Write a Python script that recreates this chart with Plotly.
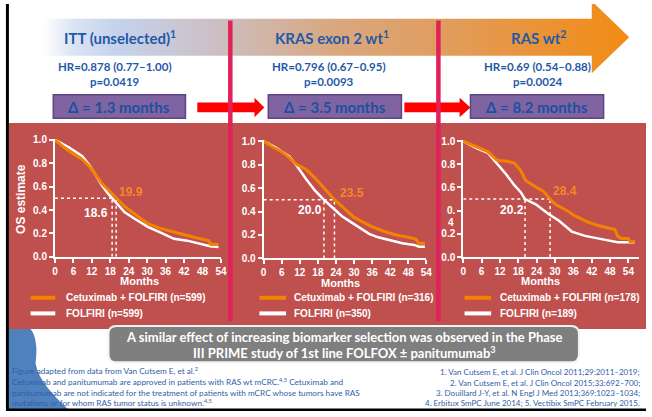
import plotly.graph_objects as go

W, H = 652, 417

# ---- Kaplan-Meier overall survival (months, OS estimate) ----
itt_cet_t = [0, 2, 4.5, 8.8, 10.9, 13.0, 15.2, 17.3, 19.9, 22.7, 25.9, 30.2, 34.4, 38.7, 43.0, 47.3, 50.0, 50.7, 53.2]
itt_cet_s = [1.0, 0.96, 0.904, 0.835, 0.78, 0.71, 0.628, 0.573, 0.50, 0.43, 0.366, 0.284, 0.242, 0.215, 0.182, 0.154, 0.138, 0.105, 0.105]
itt_fol_t = [0, 2, 4.5, 8.8, 10.9, 13.0, 15.2, 17.3, 18.6, 22.7, 25.9, 30.2, 34.4, 38.7, 43.0, 47.3, 50.5, 53.2]
itt_fol_s = [1.0, 0.975, 0.937, 0.862, 0.793, 0.71, 0.614, 0.54, 0.50, 0.38, 0.325, 0.256, 0.207, 0.154, 0.138, 0.11, 0.09, 0.083]

kras_cet_t = [0, 3, 6, 8.5, 11, 14, 16.5, 19, 21.5, 23.5, 27, 30, 33, 36, 40, 44, 48, 50.5, 51.5, 53.5]
kras_cet_s = [1.0, 0.95, 0.91, 0.86, 0.80, 0.76, 0.70, 0.63, 0.56, 0.50, 0.42, 0.35, 0.31, 0.27, 0.23, 0.20, 0.18, 0.165, 0.13, 0.13]
kras_fol_t = [0, 4, 8.5, 11, 14, 17, 20, 23.5, 26, 29, 32, 35, 38, 42, 46, 50, 51.5, 53.5]
kras_fol_s = [1.0, 0.945, 0.87, 0.79, 0.68, 0.58, 0.50, 0.42, 0.36, 0.31, 0.26, 0.21, 0.18, 0.155, 0.13, 0.115, 0.10, 0.10]

ras_cet_t = [0, 4.3, 8, 10.8, 12, 14, 16.7, 18.8, 20.4, 23.7, 26.3, 28.4, 30.1, 33.3, 36.6, 40.9, 44.1, 48.4, 49.5, 50.5, 51.6, 54, 54.5, 56]
ras_cet_s = [1.0, 0.95, 0.91, 0.84, 0.83, 0.828, 0.81, 0.745, 0.66, 0.605, 0.565, 0.50, 0.455, 0.41, 0.355, 0.30, 0.272, 0.245, 0.24, 0.18, 0.16, 0.16, 0.135, 0.135]
ras_fol_t = [0, 4.3, 8, 10.8, 14, 16.7, 18.8, 20.2, 23.7, 28, 31.2, 35.5, 39.8, 45.2, 50.5, 56]
ras_fol_s = [1.0, 0.94, 0.90, 0.815, 0.715, 0.62, 0.56, 0.50, 0.455, 0.37, 0.315, 0.22, 0.183, 0.155, 0.128, 0.128]

# median OS (months): cetuximab + FOLFIRI, FOLFIRI
medians_cet = [19.9, 23.5, 28.4]
medians_fol = [18.6, 20.0, 20.2]

panel_titles = ["ITT (unselected)<sup>1</sup>", "KRAS exon 2 wt<sup>1</sup>", "RAS wt<sup>2</sup>"]
hr_texts = ["HR=0.878 (0.77–1.00)", "HR=0.796 (0.67–0.95)", "HR=0.69 (0.54–0.88)"]
p_texts = ["p=0.0419", "p=0.0093", "p=0.0024"]
delta_months = [1.3, 3.5, 8.2]
n_cet = [599, 316, 178]
n_fol = [599, 350, 189]

month_ticks = [0, 6, 12, 18, 24, 30, 36, 42, 48, 54]
os_ticks = [0.0, 0.2, 0.4, 0.6, 0.8, 1.0]
os_ticktext = ["0.0", "0.2", "0.4", "0.6", "0.8", "1.0"]

footnote_left = [
    "Figure adapted from data from Van Cutsem E, et al.<sup>2</sup>",
    "Cetuximab and panitumumab are approved in patients with RAS wt mCRC.<sup>4,5</sup> Cetuximab and",
    "panitumumab are not indicated for the treatment of patients with mCRC whose tumors have RAS",
    "mutations or for whom RAS tumor status is unknown.<sup>4,5</sup>",
]
footnote_right = [
    "1. Van Cutsem E, et al. J Clin Oncol 2011;29:2011–2019;",
    "2. Van Cutsem E, et al. J Clin Oncol 2015;33:692–700;",
    "3. Douillard J-Y, et al. N Engl J Med 2013;369:1023–1034;",
    "4. Erbitux SmPC June 2014; 5. Vectibix SmPC February 2015.",
]
summary_lines = ["A similar effect of increasing biomarker selection was observed in the Phase",
                 "III PRIME study of 1st line FOLFOX ± panitumumab<sup>3</sup>"]

ORANGE = "#f28200"
WHITE = "#ffffff"
PANEL_RED = "#c0504d"
BLUE_TXT = "#1f5aa8"
FOOT_BLUE = "#2f5ea9"
PURPLE = "#8064a2"
PINK = "#e0215a"
CHART_FONT = "Liberation Sans"
SLIDE_FONT = "Lato"

def fx(x):
    return x / W

def fy(y):
    return 1 - y / H

# panel geometry (pixels): x at 0 months, x at xmax, y at OS 0, y at OS 1, xmax
panels = [
    dict(x0=52.7, x1=221.0, y0=259.0, y1=138.0, xmax=54.0),
    dict(x0=264.3, x1=429.3, y0=260.7, y1=139.3, xmax=54.0),
    dict(x0=466.7, x1=645.0, y0=259.3, y1=139.3, xmax=57.5),
]
curves = [
    (itt_cet_t, itt_cet_s, itt_fol_t, itt_fol_s),
    (kras_cet_t, kras_cet_s, kras_fol_t, kras_fol_s),
    (ras_cet_t, ras_cet_s, ras_fol_t, ras_fol_s),
]

fig = go.Figure()

# background canvas (pixel coordinates) on the first axis pair
layout = dict(
    width=W, height=H,
    margin=dict(l=0, r=0, t=0, b=0),
    paper_bgcolor="white",
    plot_bgcolor="rgba(0,0,0,0)",
    showlegend=False,
    xaxis=dict(domain=[0, 1], range=[0, W], visible=False, fixedrange=True),
    yaxis=dict(domain=[0, 1], range=[H, 0], visible=False, fixedrange=True),
)

# gradient header arrow
arrow_x = [40, 597, 597, 635, 597, 597, 40, 40]
arrow_y = [15, 15, -3, 34, 71, 53, 53, 15]
fig.add_trace(go.Scatter(
    x=arrow_x, y=arrow_y, xaxis="x", yaxis="y", mode="none", fill="toself",
    fillgradient=dict(
        type="horizontal", start=40, stop=635,
        colorscale=[[0.0, "#ffffff"], [0.05, "#dbe4f3"], [0.12, "#c5d3ec"],
                    [0.27, "#cbc2ca"], [0.49, "#d9a77f"], [0.69, "#e29c5a"],
                    [0.87, "#ec912e"], [1.0, "#f38a10"]]),
    hoverinfo="skip",
))

tick_font = dict(family=CHART_FONT, size=10, color=WHITE, weight="bold")

for i, (p, (ct, cs, ft, fs)) in enumerate(zip(panels, curves)):
    n = i + 2
    xa, ya = f"x{n}", f"y{n}"
    ytext = list(os_ticktext)
    if i == 2:
        ytext[2] = "0."
    layout[f"xaxis{n}"] = dict(
        domain=[fx(p["x0"]), fx(p["x1"])], range=[0, p["xmax"]], anchor=ya,
        tickvals=month_ticks, showline=True, linecolor=WHITE, linewidth=2,
        ticks="outside", ticklen=4, tickwidth=1.5, tickcolor=WHITE,
        tickfont=tick_font, showgrid=False, zeroline=False, fixedrange=True)
    layout[f"yaxis{n}"] = dict(
        domain=[fy(p["y0"]), fy(p["y1"])], range=[0, 1.01], anchor=xa,
        tickvals=os_ticks, ticktext=ytext, showline=True, linecolor=WHITE,
        linewidth=2, ticks="outside", ticklen=4, tickwidth=1.5, tickcolor=WHITE,
        tickfont=tick_font, showgrid=False, zeroline=False, fixedrange=True)

    mc, mf = medians_cet[i], medians_fol[i]
    dot = dict(color=WHITE, width=1.5, dash="dot")
    fig.add_trace(go.Scatter(x=[0, max(mc, mf)], y=[0.5, 0.5], mode="lines",
                             line=dot, xaxis=xa, yaxis=ya, hoverinfo="skip"))
    for m in (mf, mc):
        fig.add_trace(go.Scatter(x=[m, m], y=[0, 0.5], mode="lines",
                                 line=dot, xaxis=xa, yaxis=ya, hoverinfo="skip"))
    fig.add_trace(go.Scatter(x=ft, y=fs, mode="lines", line=dict(color=WHITE, width=2.5),
                             xaxis=xa, yaxis=ya, name=f"FOLFIRI (n={n_fol[i]})"))
    fig.add_trace(go.Scatter(x=ct, y=cs, mode="lines", line=dict(color=ORANGE, width=3),
                             xaxis=xa, yaxis=ya, name=f"Cetuximab + FOLFIRI (n={n_cet[i]})"))

fig.update_layout(**layout)

shapes = []
annotations = []

def canvas_text(x, y, text, size, color, family=SLIDE_FONT, bold=True, xanchor="center", **kw):
    annotations.append(dict(
        x=x, y=y, xref="x", yref="y", text=text, showarrow=False,
        xanchor=xanchor, yanchor="middle",
        font=dict(family=family, size=size, color=color, weight="bold" if bold else "normal"),
        **kw))

# red chart band and blue corner blob (under the plots)
shapes.append(dict(type="rect", xref="x", yref="y", x0=6, x1=W, y0=122, y1=333,
                   fillcolor=PANEL_RED, line=dict(width=0), layer="below"))
shapes.append(dict(type="path", xref="x", yref="y", layer="below",
                   path="M 6,333 L 28,333 C 34,340 35,355 33,368 C 36,385 50,400 68,417 L 6,417 Z",
                   fillcolor="#4f81bd", line=dict(width=0)))

# red arrows between the delta boxes
for (a, b, tip) in [(197, 255, 265), (407, 463, 474)]:
    shapes.append(dict(type="path", xref="x", yref="y", layer="above",
                       path=f"M {a},101 L {b},101 L {b},96 L {tip},106 L {b},116 L {b},111 L {a},111 Z",
                       fillcolor="#ff0000", line=dict(width=0)))

# pink separators
for xs in (230.5, 441.5):
    shapes.append(dict(type="line", xref="x", yref="y", x0=xs, x1=xs, y0=17, y1=325,
                       line=dict(color=PINK, width=4.5), layer="above"))

# panel headers, HR, p-values and delta boxes
title_x = [119, 334, 543]
hr_x = [114, 331, 542]
box_x = [(51, 185), (269, 404), (474, 609)]
for i in range(3):
    canvas_text(title_x[i], 34, panel_titles[i], 15, BLUE_TXT)
    canvas_text(hr_x[i], 64, hr_texts[i], 11.5, BLUE_TXT)
    canvas_text(hr_x[i], 79, p_texts[i], 11.5, BLUE_TXT)
    bx0, bx1 = box_x[i]
    shapes.append(dict(type="rect", xref="x", yref="y", x0=bx0, x1=bx1, y0=93, y1=117,
                       fillcolor=PURPLE, line=dict(color="#5c4580", width=1.5), layer="above"))
    canvas_text((bx0 + bx1) / 2, 105.5, f"Δ = {delta_months[i]} months", 15, "#1d4f9f")

# chart labels
ylab = [(138, 284), (342, 286), (545, 284)]
leg = [(28, 53, 62), (260, 287, 293), (468, 495, 502)]
med_lab = [((130, 193), (94, 214)), ((354, 194), (311, 211)), ((570, 192), (516, 211))]
for i in range(3):
    canvas_text(ylab[i][0], ylab[i][1], "Months", 11, WHITE, family=CHART_FONT)
    l0, l1, tx = leg[i]
    shapes.append(dict(type="line", xref="x", yref="y", x0=l0, x1=l1, y0=301, y1=301,
                       line=dict(color=ORANGE, width=4), layer="above"))
    shapes.append(dict(type="line", xref="x", yref="y", x0=l0, x1=l1, y0=317, y1=317,
                       line=dict(color=WHITE, width=4), layer="above"))
    canvas_text(tx, 301, f"Cetuximab + FOLFIRI (n={n_cet[i]})", 10, WHITE,
                family=CHART_FONT, xanchor="left")
    canvas_text(tx, 317, f"FOLFIRI (n={n_fol[i]})", 10, WHITE,
                family=CHART_FONT, xanchor="left")
    (ox, oy), (wx, wy) = med_lab[i]
    canvas_text(ox, oy, f"{medians_cet[i]}", 12, "#f5862a", family=CHART_FONT)
    canvas_text(wx, wy, f"{medians_fol[i]:.1f}", 12, WHITE, family=CHART_FONT)

canvas_text(18, 200, "OS estimate", 12, WHITE, family=CHART_FONT, textangle=-90)
canvas_text(454, 224, "4", 10, WHITE, family=CHART_FONT)

# summary box
x0, x1, y0, y1, r = 107, 584, 330, 367, 8
shapes.append(dict(
    type="path", xref="x", yref="y", layer="above",
    path=(f"M {x0+r},{y0} L {x1-r},{y0} Q {x1},{y0} {x1},{y0+r} L {x1},{y1-r} "
          f"Q {x1},{y1} {x1-r},{y1} L {x0+r},{y1} Q {x0},{y1} {x0},{y1-r} "
          f"L {x0},{y0+r} Q {x0},{y0} {x0+r},{y0} Z"),
    fillcolor="#7f7f7f", line=dict(color="#f2f2f2", width=2)))
canvas_text(346, 341, summary_lines[0], 13, WHITE)
canvas_text(346, 357, summary_lines[1], 13, WHITE)

# footnotes
for k, line in enumerate(footnote_left):
    canvas_text(7, [376, 387, 398.5, 408.5][k], line, 8.2, FOOT_BLUE, bold=False, xanchor="left")
for k, line in enumerate(footnote_right):
    canvas_text(648, [377, 388, 399, 409][k], line, 8, FOOT_BLUE, bold=False, xanchor="right")

# slide frame edges
shapes.append(dict(type="rect", xref="x", yref="y", x0=3, x1=6, y0=0, y1=H,
                   fillcolor="black", line=dict(width=0), layer="above"))
shapes.append(dict(type="rect", xref="x", yref="y", x0=3, x1=W, y0=414.5, y1=H,
                   fillcolor="black", line=dict(width=0), layer="above"))

fig.update_layout(shapes=shapes, annotations=annotations)
fig.write_html("out.html")
